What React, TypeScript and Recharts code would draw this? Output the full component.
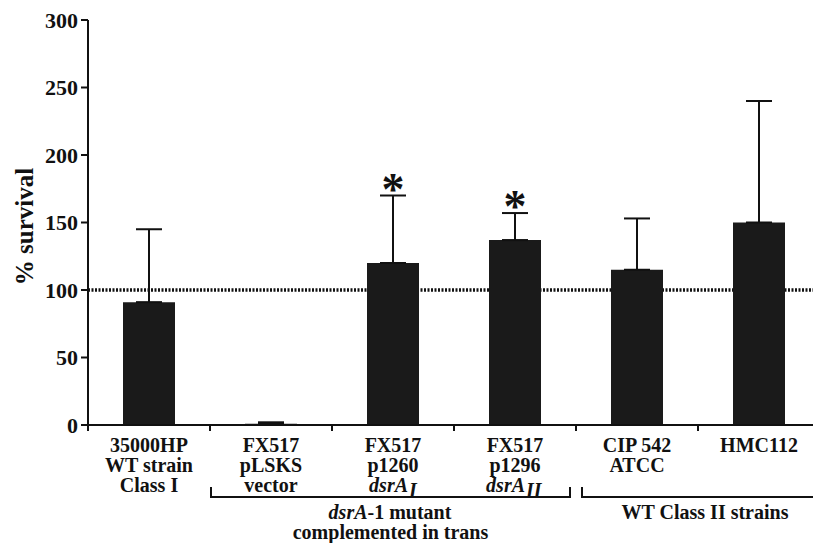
import React from 'react';
import { ComposedChart, Bar, XAxis, YAxis, ErrorBar, CartesianGrid, Scatter } from 'recharts';

const FONT = '"Liberation Serif", "Times New Roman", serif';

const categories = ['35000HP', 'FX517 pLSKS', 'FX517 p1260', 'FX517 p1296', 'CIP 542', 'HMC112'];
const labelLine1 = ['35000HP', 'FX517', 'FX517', 'FX517', 'CIP 542', 'HMC112'];
const labelLine2 = ['WT strain', 'pLSKS', 'p1260', 'p1296', 'ATCC', ''];
const labelLine3 = ['Class I', 'vector', 'dsrA|I', 'dsrA|II', '', ''];
const survival = [91, 1, 120, 137, 115, 150];
const upperError = [54, 1, 50, 20, 38, 90];
const significant = [false, false, true, true, false, false];
const yTicks = [0, 50, 100, 150, 200, 250, 300];
const referenceLevel = 100;

const groupStart = [1, 4];
const groupEnd = [3, 5];
const groupLine1 = ['dsrA|-1 mutant', 'WT Class II strains'];
const groupLine2 = ['complemented in trans', ''];

const data = categories.map((c, i) => ({
  name: c,
  value: survival[i],
  err: [0, upperError[i]],
  starTop: significant[i] ? survival[i] + upperError[i] : null,
}));

const textStyle = { fontFamily: FONT, fontWeight: 700, fontSize: 20, fill: '#111' } as const;

function ItalicSub({ text, x, y }: { text: string; x: number; y: number }) {
  const [main, sub] = text.split('|');
  const split = x + (sub.length > 1 ? 10 : 15);
  return (
    <g>
      <text x={split} y={y} textAnchor="end" style={{ ...textStyle, fontStyle: 'italic' }}>{main}</text>
      <text x={split + 1} y={y + 5} textAnchor="start" style={{ ...textStyle, fontStyle: 'italic' }}>{sub}</text>
    </g>
  );
}

function GroupText({ text, x, y }: { text: string; x: number; y: number }) {
  if (text.includes('|')) {
    const [it, rest] = text.split('|');
    const split = x - 23;
    return (
      <g>
        <text x={split} y={y} textAnchor="end" style={{ ...textStyle, fontStyle: 'italic' }}>{it}</text>
        <text x={split} y={y} textAnchor="start" style={textStyle}>{rest}</text>
      </g>
    );
  }
  return (
    <text x={x} y={y} textAnchor="middle" style={textStyle}>{text}</text>
  );
}

function XTick(props: any) {
  const { x, y, payload, index } = props;
  const i = payload?.index ?? index;
  const half = payload?.offset ?? 61;
  const left = x - half;
  const band = half * 2;
  const l3 = labelLine3[i];
  const g = groupStart.indexOf(i);
  let groupEl = null;
  if (g >= 0) {
    const bl = left + (g === 0 ? 1 : 6);
    const br = left + band * (groupEnd[g] - groupStart[g] + 1) - (g === 0 ? 6 : -8);
    const cx = (bl + br) / 2;
    const by = y + 72;
    groupEl = (
      <g>
        <path d={`M${bl},${by - 10}L${bl},${by}L${br},${by}L${br},${by - 10}`} fill="none" stroke="#111" strokeWidth={2} />
        <GroupText text={groupLine1[g]} x={cx} y={y + 94} />
        {groupLine2[g] ? <GroupText text={groupLine2[g]} x={cx} y={y + 114} /> : null}
      </g>
    );
  }
  return (
    <g>
      <line x1={left} x2={left} y1={y} y2={y + 6} stroke="#111" strokeWidth={2} />
      <text x={x} y={y + 27} textAnchor="middle" style={textStyle}>{labelLine1[i]}</text>
      {labelLine2[i] ? <text x={x} y={y + 47} textAnchor="middle" style={textStyle}>{labelLine2[i]}</text> : null}
      {l3 ? (l3.includes('|') ? <ItalicSub text={l3} x={x} y={y + 67} /> : <text x={x} y={y + 67} textAnchor="middle" style={textStyle}>{l3}</text>) : null}
      {groupEl}
    </g>
  );
}

function StarShape(props: any) {
  const { cx, cy } = props;
  if (cy == null || isNaN(cy)) return null;
  return (
    <text x={cx} y={cy + 9} textAnchor="middle" style={{ fontFamily: FONT, fontWeight: 700, fontSize: 46, fill: '#111' }}>*</text>
  );
}

export default function App() {
  return (
    <div style={{ position: 'absolute', left: 0, top: 0, background: '#fff' }}>
      <ComposedChart width={813} height={543} data={data} margin={{ top: 20, right: -7, bottom: 0, left: 0 }} barCategoryGap={0}>
        <CartesianGrid
          vertical={false}
          horizontal={true}
          horizontalValues={[referenceLevel]}
          stroke="#111"
          strokeWidth={3.5}
          strokeDasharray="2 1.5"
        />
        <XAxis
          dataKey="name"
          height={118}
          axisLine={{ stroke: '#111', strokeWidth: 2 }}
          tickLine={false}
          tickSize={0}
          tickMargin={0}
          tick={<XTick />}
          interval={0}
        />
        <YAxis
          width={88}
          domain={[0, 300]}
          ticks={yTicks}
          axisLine={{ stroke: '#111', strokeWidth: 2 }}
          tickLine={{ stroke: '#111', strokeWidth: 2 }}
          tickSize={7}
          tickMargin={3}
          tick={{ ...textStyle, fontSize: 22 }}
          label={{ value: '% survival', angle: -90, position: 'center', dx: -20, dy: 4, style: { fontFamily: FONT, fontWeight: 700, fontSize: 25, fill: '#111' } }}
        />
        <Bar dataKey="value" fill="#1a1a1a" barSize={52} isAnimationActive={false}>
          <ErrorBar dataKey="err" width={13} strokeWidth={2} stroke="#111" direction="y" />
        </Bar>
        <Scatter dataKey="starTop" shape={<StarShape />} isAnimationActive={false} legendType="none" />
      </ComposedChart>
    </div>
  );
}
